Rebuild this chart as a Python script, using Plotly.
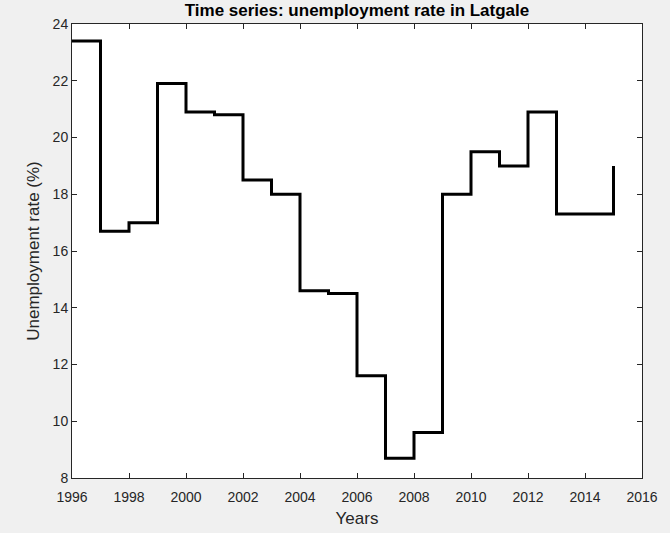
import plotly.graph_objects as go

years = [1996, 1997, 1998, 1999, 2000, 2001, 2002, 2003, 2004, 2005,
         2006, 2007, 2008, 2009, 2010, 2011, 2012, 2013, 2014, 2015]
rate = [23.4, 16.7, 17.0, 21.9, 20.9, 20.8, 18.5, 18.0, 14.6, 14.5,
        11.6, 8.7, 9.6, 18.0, 19.5, 19.0, 20.9, 17.3, 17.3, 19.0]

x_ticks = list(range(1996, 2017, 2))
y_ticks = list(range(8, 25, 2))

FONT = "Liberation Sans, Arial, sans-serif"

fig = go.Figure()
fig.add_trace(go.Scatter(
    x=years, y=rate, mode="lines", line_shape="hv",
    line=dict(color="black", width=3), showlegend=False,
))

axis_common = dict(
    showgrid=False, zeroline=False, showline=True, linecolor="#262626",
    linewidth=1, mirror="ticks", ticks="inside", ticklen=5, tickcolor="#262626",
    tickfont=dict(family=FONT, size=14, color="#262626"),
    automargin=False,
)

fig.update_layout(
    width=670, height=533,
    paper_bgcolor="#f0f0f0", plot_bgcolor="white",
    margin=dict(l=72, r=28, t=24, b=55),
    title=dict(text="<b>Time series: unemployment rate in Latgale</b>",
               font=dict(family=FONT, size=17, color="black"),
               x=0.5, xref="paper", y=1 - 10 / 533, yref="container", yanchor="middle"),
    xaxis=dict(range=[1996, 2016], tickvals=x_ticks, ticktext=[str(v) for v in x_ticks],
               ticklabelstandoff=6,
               title=dict(text="Years", standoff=8,
                          font=dict(family=FONT, size=17, color="#262626")),
               **axis_common),
    yaxis=dict(range=[8, 24], tickvals=y_ticks, ticktext=[str(v) for v in y_ticks],
               title=dict(text="Unemployment rate (%)", standoff=8,
                          font=dict(family=FONT, size=17, color="#262626")),
               **axis_common),
)

fig.write_html(
    "out.html",
    config={"displayModeBar": False},
    post_script="document.body.style.margin='0';document.body.style.background='#f0f0f0';",
)
